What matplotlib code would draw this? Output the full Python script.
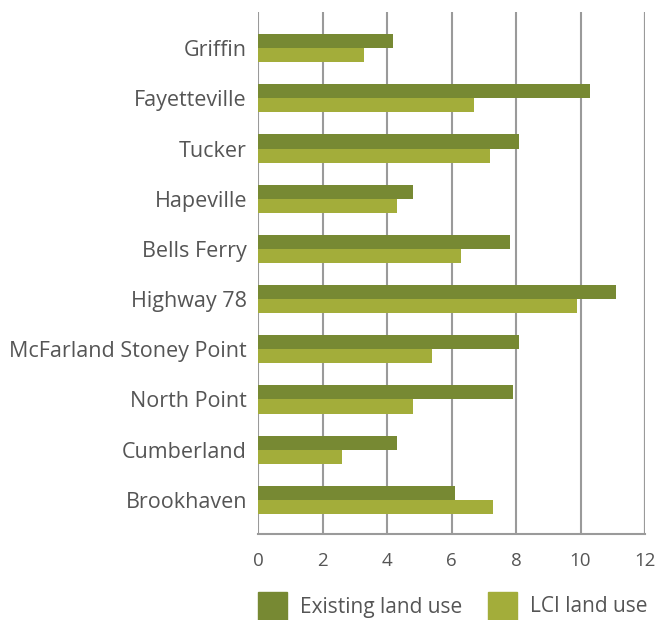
#!/usr/bin/env python3

import numpy as np
import matplotlib
matplotlib.use("Agg")
import matplotlib.pyplot as plt
from matplotlib.patches import Rectangle

sites = ["Griffin", "Fayetteville", "Tucker", "Hapeville", "Bells Ferry",
         "Highway 78", "McFarland Stoney Point", "North Point", "Cumberland",
         "Brookhaven"]
existing = [4.2, 10.3, 8.1, 4.8, 7.8, 11.1, 8.1, 7.9, 4.3, 6.1]
lci = [3.3, 6.7, 7.2, 4.3, 6.3, 9.9, 5.4, 4.8, 2.6, 7.3]
xticks = [0, 2, 4, 6, 8, 10, 12]
series = ["Existing land use", "LCI land use"]

dark = "#778933"
light = "#a3ad3a"
grid = "#9a9a9a"
txt = "#555555"

plt.rcParams["font.family"] = ["Open Sans", "DejaVu Sans"]

W, H = 657, 620
fig = plt.figure(figsize=(W / 100, H / 100), dpi=100)
ax = fig.add_axes([258 / W, 1 - 534 / H, 387 / W, 522 / H])

y = np.arange(len(sites))
h = 0.28
ax.barh(y - h / 2, existing, height=h, color=dark, zorder=3)
ax.barh(y + h / 2, lci, height=h, color=light, zorder=3)

ax.set_xlim(0, 12)
ax.set_ylim(9.68, -0.72)
ax.set_xticks(xticks)
ax.set_yticks(y)
ax.set_yticklabels(sites)
ax.tick_params(axis="both", length=0, colors=txt)
ax.tick_params(axis="y", labelsize=15.5, pad=8)
ax.tick_params(axis="x", labelsize=13.5, pad=13)

for s in ["top", "right", "left"]:
    ax.spines[s].set_visible(False)
ax.spines["bottom"].set_color(grid)
ax.spines["bottom"].set_linewidth(1.5)
ax.xaxis.grid(True, color=grid, linewidth=1.5, zorder=0)
ax.axvline(12, color=grid, linewidth=1.5, zorder=0)

# legend drawn by hand to sit flush with the bottom edge
for x0, col, lab in [(258, dark, series[0]), (488, light, series[1])]:
    fig.patches.append(Rectangle((x0 / W, 0), 29 / W, 28 / H, color=col,
                                 transform=fig.transFigure, figure=fig))
    fig.text((x0 + 42) / W, 13 / H, lab, fontsize=15, color=txt,
             va="center", ha="left")

fig.savefig("out.png", dpi=100)
plt.close(fig)
